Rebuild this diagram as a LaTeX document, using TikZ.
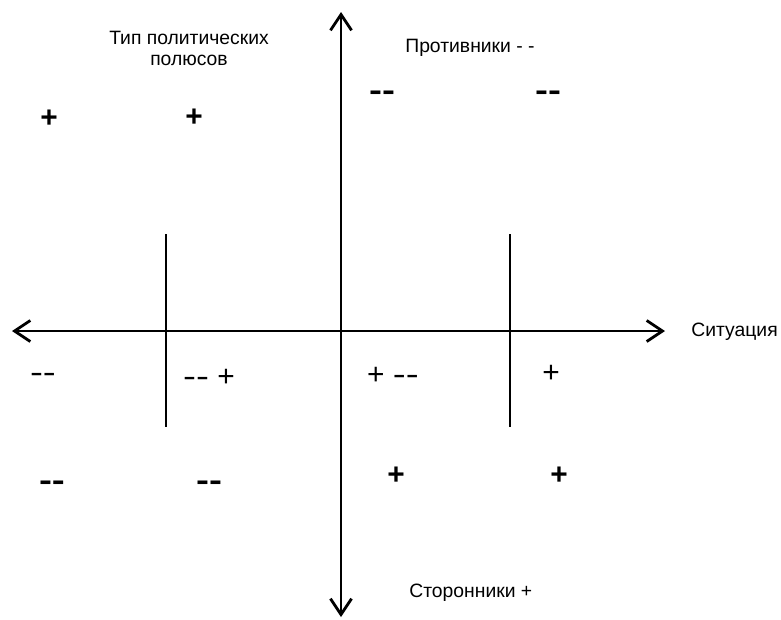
\documentclass[tikz,border=0pt]{standalone}
\usepackage{fontspec}
\setmainfont{Liberation Sans}
\usetikzlibrary{arrows.meta}

\newcommand\mm{\scalebox{1.3}[1]{-{}-}}

\tikzset{
  axis/.style={line width=1.6pt,
    {Straight Barb[length=9pt,width=12pt,line width=1.6pt]}-{Straight Barb[length=9pt,width=12pt,line width=1.6pt]}},
  bar/.style={line width=1.6pt},
  lbl/.style={font=\fontsize{11}{12}\selectfont, align=center},
  sgn/.style={font=\fontsize{17}{17}\selectfont\bfseries, inner sep=0pt,
    text height=0.62em, text depth=0pt},
  sgnthin/.style={font=\fontsize{17}{17}\selectfont, inner sep=0pt,
    text height=0.62em, text depth=0pt}
}

\begin{document}
\begin{tikzpicture}[x=0.02cm, y=-0.02cm]
  \useasboundingbox (0,0) rectangle (781,619);

  \coordinate (W) at (12,331);
  \coordinate (E) at (665,331);
  \coordinate (N) at (341,12);
  \coordinate (S) at (341,617);

  \coordinate (l1) at (166,234);
  \coordinate (l2) at (166,427);
  \coordinate (r1) at (510,234);
  \coordinate (r2) at (510,427);

  \draw[axis] (W) -- (E);
  \draw[axis] (S) -- (N);
  \draw[bar] (l1) -- (l2);
  \draw[bar] (r1) -- (r2);

  \node[lbl] (tip)  at (189,48)                          {Тип политических\\полюсов};
  \node[lbl, anchor=west, inner sep=0pt] (prot) at (405,48)  {Противники - -};
  \node[lbl, anchor=west, inner sep=0pt] (sit)  at (691,332) {Ситуация};
  \node[lbl, anchor=west, inner sep=0pt] (stor) at (409,593) {Сторонники +};

  % upper row
  \node[sgn] (a1) at (49,122)  {+};
  \node[sgn] (a2) at (194,121) {+};
  \node[sgn] (a3) at (382,95)  {\mm};
  \node[sgn] (a4) at (548,95)  {\mm};

  % under the axis
  \node[sgnthin] (b1) at (43,377)  {\mm};
  \node[sgnthin] (b2) at (209,381) {\mm\ +};
  \node[sgnthin] (b3) at (393,379) {+ \mm};
  \node[sgnthin] (b4) at (551,377) {+};

  % lower row
  \node[sgn] (c1) at (52,485)  {\mm};
  \node[sgn] (c2) at (209,485) {\mm};
  \node[sgn] (c3) at (396,479) {+};
  \node[sgn] (c4) at (559,479) {+};
\end{tikzpicture}
\end{document}
